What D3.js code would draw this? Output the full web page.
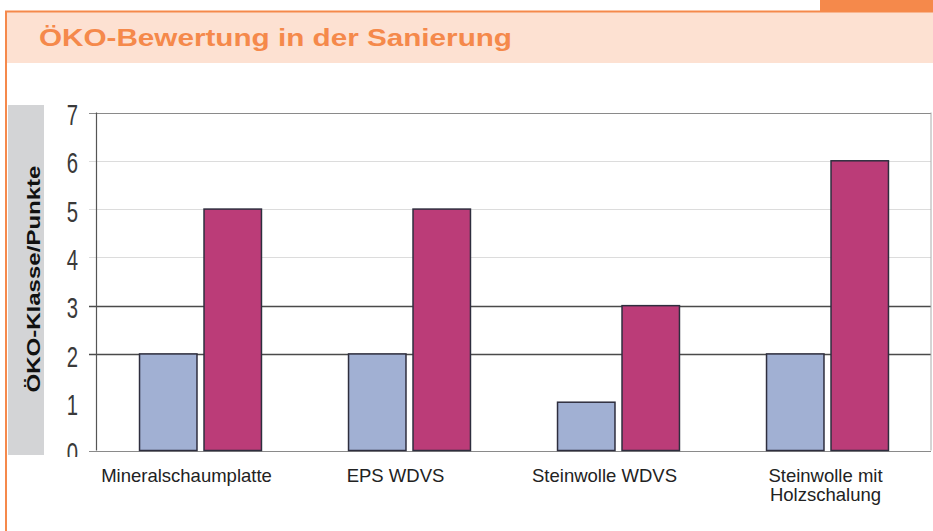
<!DOCTYPE html>
<html>
<head>
<meta charset="utf-8">
<script src="https://cdn.jsdelivr.net/npm/d3@7"></script>
<style>
  html, body { margin: 0; padding: 0; background: #fff; }
  svg { display: block; }
</style>
</head>
<body>
<svg id="chart" width="933" height="531"></svg>
<script>
// ---- data ----
const title = "ÖKO-Bewertung in der Sanierung";
const yAxisLabel = "ÖKO-Klasse/Punkte";
const categories = ["Mineralschaumplatte", "EPS WDVS", "Steinwolle WDVS", "Steinwolle mit\nHolzschalung"];
const seriesNames = ["A", "B"];
const seriesA = [2, 2, 1, 2];
const seriesB = [5, 5, 3, 6];
const yTicks = [0, 1, 2, 3, 4, 5, 6, 7];
const strongGrid = [2, 3];

// ---- layout ----
const W = 933, H = 531;
const svg = d3.select("#chart");
const plot = { left: 96, right: 932, top: 112.5, bottom: 450.5 };
const colors = { A: "#a1b0d3", B: "#bb3c78" };

// frame decorations
svg.append("rect").attr("x", 820).attr("y", 0).attr("width", 113).attr("height", 12).attr("fill", "#f5894b");
svg.append("rect").attr("x", 7).attr("y", 12).attr("width", 926).attr("height", 51).attr("fill", "#fde1d2");
svg.append("line").attr("x1", 5).attr("x2", 933).attr("y1", 11.5).attr("y2", 11.5)
  .attr("stroke", "#f5894b").attr("stroke-width", 2);
svg.append("line").attr("x1", 6).attr("x2", 6).attr("y1", 11).attr("y2", H)
  .attr("stroke", "#f5894b").attr("stroke-width", 2);

svg.append("text").attr("x", 39).attr("y", 46)
  .attr("font-family", "Liberation Sans, Arial, sans-serif")
  .attr("font-weight", "bold").attr("font-size", 23.5)
  .attr("textLength", 473).attr("lengthAdjust", "spacingAndGlyphs")
  .attr("fill", "#f5894b").text(title);

// y label box
svg.append("rect").attr("x", 8).attr("y", 105).attr("width", 36).attr("height", 350).attr("fill", "#d3d4d6");
svg.append("text")
  .attr("transform", "translate(40,279) rotate(-90)")
  .attr("text-anchor", "middle")
  .attr("font-family", "Liberation Sans, Arial, sans-serif")
  .attr("font-weight", "bold").attr("font-size", 18)
  .attr("textLength", 227).attr("lengthAdjust", "spacingAndGlyphs")
  .attr("fill", "#111").text(yAxisLabel);

// ---- scales ----
const x0 = d3.scaleBand().domain(categories).range([plot.left, plot.right]).paddingInner(0).paddingOuter(0);
const x1 = d3.scaleBand().domain(seriesNames).range([0, x0.bandwidth()]).paddingInner(0.109).paddingOuter(0.675);
const y = d3.scaleLinear().domain([0, 7]).range([plot.bottom, plot.top]);

// gridlines
const grid = svg.append("g");
grid.selectAll("line").data(yTicks.filter(d => d !== 1)).join("line")
  .attr("x1", 89).attr("x2", 931)
  .attr("y1", d => Math.round(y(d)) + 0.5).attr("y2", d => Math.round(y(d)) + 0.5)
  .attr("stroke", d => strongGrid.includes(d) ? "#4a4a4a" : (d === 7 || d === 0 ? "#8a8a8a" : "#dcdcdc"))
  .attr("stroke-width", d => strongGrid.includes(d) ? 1.3 : 1);

// frame right
svg.append("line").attr("x1", 931).attr("x2", 931).attr("y1", y(7)).attr("y2", y(0))
  .attr("stroke", "#aaa").attr("stroke-width", 1);

// y tick labels (clipped at bottom like the reference)
const yAxis = d3.axisLeft(y).tickValues(yTicks).tickSize(0).tickPadding(0).tickFormat(d3.format("d"));
svg.append("defs").append("clipPath").attr("id", "yclip")
  .append("rect").attr("x", -40).attr("y", 90).attr("width", 55).attr("height", 367);
const yg = svg.append("g").attr("transform", `translate(78,0)`).attr("clip-path", "url(#yclip)").call(yAxis);
yg.select(".domain").remove();
yg.selectAll("text")
  .attr("font-family", "Liberation Sans, Arial, sans-serif")
  .attr("font-size", 29).attr("fill", "#3a3a3a")
  .attr("dy", "0.42em").attr("x", 0)
  .attr("transform", "scale(0.7,1)");

// bars
const groups = svg.append("g").selectAll("g").data(categories).join("g")
  .attr("transform", d => `translate(${x0(d)},0)`);
groups.selectAll("rect")
  .data((d, i) => [{ k: "A", v: seriesA[i] }, { k: "B", v: seriesB[i] }])
  .join("rect")
  .attr("x", d => x1(d.k))
  .attr("width", x1.bandwidth())
  .attr("y", d => y(d.v))
  .attr("height", d => y(0) - y(d.v))
  .attr("fill", d => colors[d.k])
  .attr("stroke", "#2e2e3e").attr("stroke-width", 1.5);

// left axis line
svg.append("line").attr("x1", 96.5).attr("x2", 96.5).attr("y1", y(7)).attr("y2", y(0))
  .attr("stroke", "#555").attr("stroke-width", 1.2);

// x labels
const xl = svg.append("g").selectAll("text").data(categories).join("text")
  .attr("text-anchor", "middle")
  .attr("font-family", "Liberation Sans, Arial, sans-serif")
  .attr("font-size", 18.5).attr("fill", "#222")
  .attr("transform", d => {
    const lines = d.split("\n");
    const cx = x0(d) + x0.bandwidth() / 2 + (lines.length > 1 ? -2 : -14);
    return `translate(${cx},482)`;
  });
xl.selectAll("tspan").data(d => d.split("\n")).join("tspan")
  .attr("x", 0).attr("dy", (d, i) => i === 0 ? 0 : 19).text(d => d);
</script>
</body>
</html>
